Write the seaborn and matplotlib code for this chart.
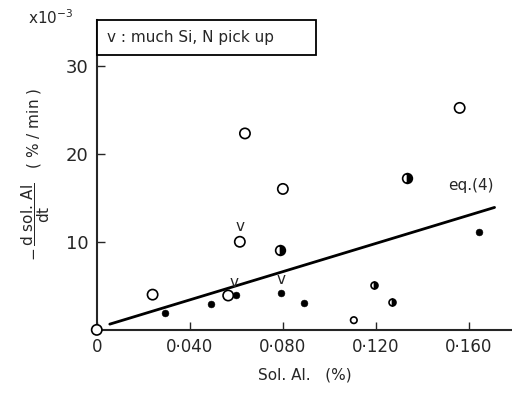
import numpy as np
import pandas as pd
import matplotlib
matplotlib.use("Agg")
import matplotlib.pyplot as plt
from matplotlib.patches import Rectangle
import seaborn as sns

# data (x: sol.Al %, y: rate x1e-3 %/min)
open_x = [0.0, 0.024, 0.0565, 0.0615, 0.0637, 0.080, 0.1105, 0.156]
open_y = [0.0, 4.0, 3.9, 10.0, 22.3, 16.0, 1.1, 25.2]
open_size = [55, 55, 55, 55, 55, 55, 22, 55]

half_x = [0.0787, 0.1335]
half_y = [9.1, 17.2]
small_half_x = [0.119, 0.1267]
small_half_y = [5.1, 3.2]

filled_x = [0.0294, 0.0493, 0.0598, 0.0794, 0.0892, 0.1643]
filled_y = [1.9, 2.95, 4.0, 4.2, 3.0, 11.1]

# "v" marks (much Si, N pick up)
v_x = [0.0615, 0.0590, 0.0794]
v_y = [11.7, 5.4, 5.7]

# eq.(4) line
line_x = [0.0056, 0.171]
line_y = [0.65, 13.9]

xticks = [0, 0.04, 0.08, 0.12, 0.16]
xtick_labels = ["0", "0\u00b7040", "0\u00b7080", "0\u00b7120", "0\u00b7160"]
yticks = [10, 20, 30]

sns.set_style("ticks")
plt.rcParams['font.family'] = ['DejaVu Sans']

fig = plt.figure(figsize=(5.12, 3.96), dpi=100)
ax = fig.add_axes([0.189, 0.167, 0.811, 0.783])

sns.lineplot(x=line_x, y=line_y, color="black", linewidth=2.0, ax=ax)

sns.scatterplot(x=open_x, y=open_y, size=open_size, sizes=(22, 55), legend=False,
                marker="o", facecolor="white", edgecolor="black", linewidth=1.2,
                ax=ax, clip_on=False, zorder=5)
sns.scatterplot(x=filled_x, y=filled_y, color="black", s=24, edgecolor="black",
                legend=False, ax=ax, zorder=5)

ax.plot(half_x, half_y, linestyle="none", marker="o", markersize=7, fillstyle="right",
        markerfacecolor="black", markerfacecoloralt="white", markeredgecolor="black",
        markeredgewidth=1.2, zorder=5)
ax.plot(small_half_x, small_half_y, linestyle="none", marker="o", markersize=5, fillstyle="right",
        markerfacecolor="black", markerfacecoloralt="white", markeredgecolor="black",
        markeredgewidth=1.2, zorder=5)

for vx, vy in zip(v_x, v_y):
    ax.text(vx, vy, "v", ha="center", va="center", fontsize=11)

ax.text(0.151, 16.4, "eq.(4)", fontsize=11, ha="left", va="center")

ax.set_xlim(0, 0.1785)
ax.set_ylim(0, 35.2)
ax.set_xticks(xticks)
ax.set_xticklabels(xtick_labels, fontsize=12)
ax.set_yticks(yticks)
ax.set_yticklabels([str(t) for t in yticks], fontsize=13)
ax.tick_params(direction="in", length=6, width=1, pad=6)
for side in ["top", "right"]:
    ax.spines[side].set_visible(False)
for side in ["left", "bottom"]:
    ax.spines[side].set_linewidth(1.5)

ax.set_xlabel("Sol. Al.   (%)", fontsize=11, labelpad=8)
ax.set_ylabel(r"$-\,\dfrac{\mathrm{d\ sol.\,Al}}{\mathrm{dt}}$   ( % / min )", fontsize=11, labelpad=10)

fig.text(0.055, 0.955, r"x10$^{-3}$", fontsize=11, ha="left", va="center")

# legend box at the top left of the axes
ax.add_patch(Rectangle((0.0, 0.887), 0.528, 0.113, transform=ax.transAxes,
                       facecolor="white", edgecolor="black", linewidth=1.3,
                       clip_on=False, zorder=6))
ax.text(0.025, 0.943, "v : much Si, N pick up", transform=ax.transAxes, fontsize=11,
        ha="left", va="center", zorder=7)

fig.savefig("out.png", dpi=100)
